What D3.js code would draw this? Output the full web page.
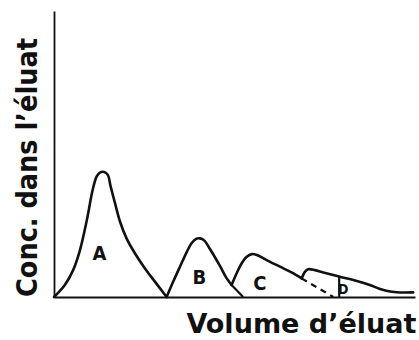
<!DOCTYPE html>
<html>
<head>
<meta charset="utf-8">
<script src="https://cdn.jsdelivr.net/npm/d3@7"></script>
<style>
  html, body { margin: 0; padding: 0; background: #fff; }
  svg { display: block; }
  .lbl { font-family: "DejaVu Sans Condensed", "DejaVu Sans", sans-serif; font-weight: bold; fill: #111; }
</style>
</head>
<body>
<svg id="chart" width="419" height="340"></svg>
<script>
// Elution profile: eluate volume (x) against concentration (y), arbitrary units 0–100
const peakA = [[0,0],[3.0,4.2],[5.3,9.4],[7.2,16.4],[9.1,26.9],[10.7,37.4],[11.8,42.1],[12.7,43.5],[13.9,43.7],[14.9,42.7],[15.7,38.6],[16.9,32.8],[18.3,26.3],[20.1,20.5],[22.4,15.3],[25.2,10.0],[28.0,5.3],[31.2,0]];
const peakB = [[31.2,0],[33.0,5.3],[34.9,10.6],[36.8,15.8],[38.1,18.8],[39.5,20.4],[40.4,20.5],[41.6,19.8],[43.2,16.8],[46.0,10.8],[47.8,6.6],[49.2,4.2]];
const peakC = [[49.2,4.2],[50.6,8.3],[52.0,11.8],[53.4,14.1],[54.8,15.0],[56.2,14.7],[58.9,12.9],[62.6,10.6],[65.8,8.6],[68.6,6.5]];
const peakD = [[68.6,6.5],[69.5,8.8],[70.4,9.7],[72.3,9.4],[74.6,8.6],[79.2,7.1],[83.9,5.6],[87.5,4.2],[90.3,2.8],[93.1,1.9],[95.8,1.6],[99.5,1.6]];

// Cut lines between overlapping bands
const cutBC = [[49.2,4.2],[52.4,0]];
const cutCD = [[68.6,6.5],[77.4,0]];     // dashed extrapolation
const cutD  = [[79.0,7.0],[79.0,0]];

// Band labels (D sits with its stem on the cut line)
const bandNames = ["A", "B", "C", "D"];
const bandX = [12.6, 40.3, 57.0, 79.2];
const bandY = [13.0, 4.4, 2.4, 1.2];

const xTitle = "Volume d\u2019éluat";
const yTitle = "Conc. dans l\u2019éluat";

const svg = d3.select("#chart");
const x = d3.scaleLinear().domain([0, 100]).range([54, 415]);
const y = d3.scaleLinear().domain([0, 100]).range([297, 11]);

// Axes: bare lines, no ticks
svg.append("g")
  .attr("transform", `translate(0,${y(0)})`)
  .call(d3.axisBottom(x).ticks(0).tickSizeOuter(0))
  .call(g => g.select(".domain").attr("stroke", "#111").attr("stroke-width", 2));
svg.append("g")
  .attr("transform", `translate(${x(0)},0)`)
  .call(d3.axisLeft(y).ticks(0).tickSizeOuter(0))
  .call(g => g.select(".domain").attr("stroke", "#111").attr("stroke-width", 1.8));

const curve = d3.line().x(d => x(d[0])).y(d => y(d[1])).curve(d3.curveCatmullRom.alpha(0.5));
const straight = d3.line().x(d => x(d[0])).y(d => y(d[1]));

[peakA, peakB, peakC, peakD].forEach(p => {
  svg.append("path").attr("d", curve(p))
    .attr("fill", "none").attr("stroke", "#111")
    .attr("stroke-width", 2.6).attr("stroke-linejoin", "round").attr("stroke-linecap", "round");
});

svg.append("path").attr("d", straight(cutBC))
  .attr("fill", "none").attr("stroke", "#111").attr("stroke-width", 2.2);
svg.append("path").attr("d", straight(cutCD))
  .attr("fill", "none").attr("stroke", "#111").attr("stroke-width", 2.2)
  .attr("stroke-dasharray", "6,5");
svg.append("path").attr("d", straight(cutD))
  .attr("fill", "none").attr("stroke", "#111").attr("stroke-width", 2.2);

// Band letters
bandNames.forEach((n, i) => {
  svg.append("text").attr("class", "lbl")
    .attr("x", x(bandX[i])).attr("y", y(bandY[i]))
    .attr("text-anchor", i === 3 ? "start" : "middle")
    .attr("dx", i === 3 ? -2 : 0)
    .attr("font-size", i === 3 ? 14 : 20)
    .text(n);
});

// Axis titles
svg.append("text").attr("class", "lbl")
  .attr("x", 186.5).attr("y", 333)
  .attr("font-size", 27)
  .attr("textLength", 230).attr("lengthAdjust", "spacingAndGlyphs")
  .text(xTitle);

svg.append("text").attr("class", "lbl")
  .attr("transform", "translate(37,167.5) rotate(-90)")
  .attr("text-anchor", "middle")
  .attr("font-size", 29)
  .attr("textLength", 259).attr("lengthAdjust", "spacingAndGlyphs")
  .text(yTitle);
</script>
</body>
</html>
